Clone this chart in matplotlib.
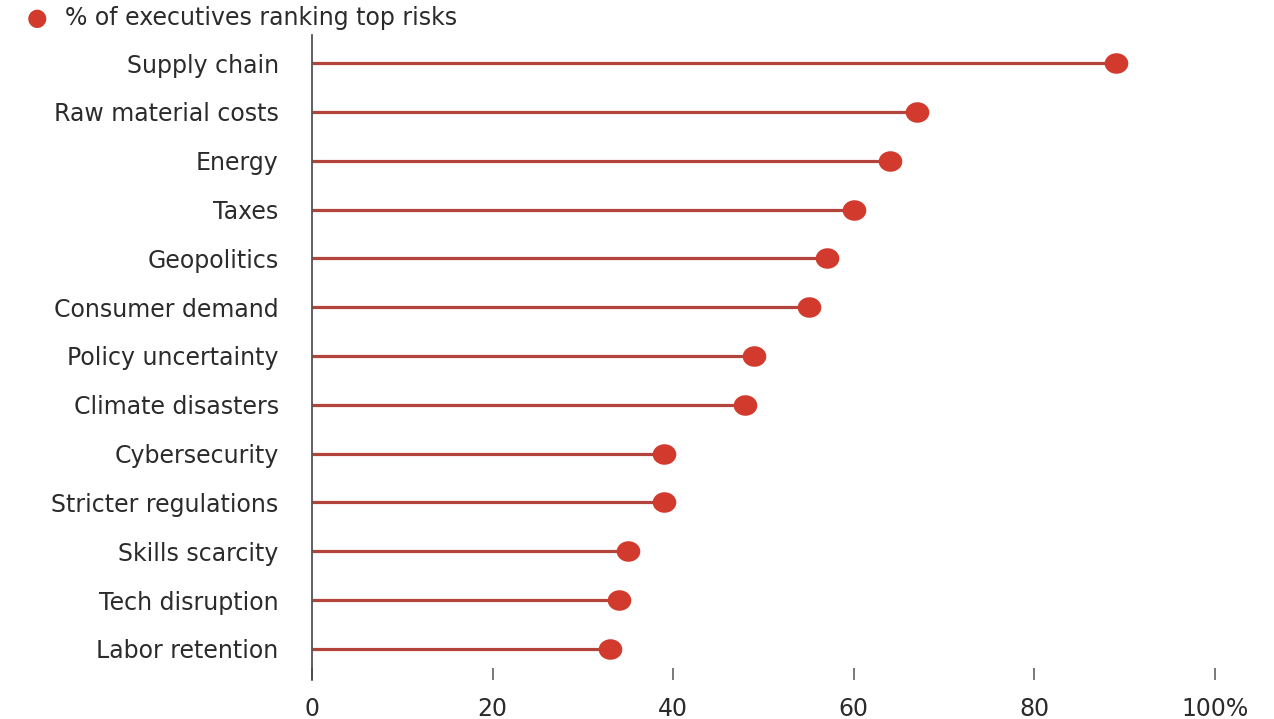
import matplotlib
matplotlib.use("Agg")
import matplotlib.pyplot as plt
import numpy as np
from matplotlib.path import Path

categories = ["Supply chain", "Raw material costs", "Energy", "Taxes", "Geopolitics",
              "Consumer demand", "Policy uncertainty", "Climate disasters", "Cybersecurity",
              "Stricter regulations", "Skills scarcity", "Tech disruption", "Labor retention"]
values = [89, 67, 64, 60, 57, 55, 49, 48, 39, 39, 35, 34, 33]
xticks = [0, 20, 40, 60, 80, 100]
xticklabels = ["0", "20", "40", "60", "80", "100%"]
legend_label = "% of executives ranking top risks"

plt.rcParams['font.family'] = ['DejaVu Sans']

W, H = 1274, 719
fig = plt.figure(figsize=(W / 100, H / 100), dpi=100)
ax = fig.add_axes([312 / W, 1 - 680 / H, (1215 - 312) / W, (680 - 35) / H])

line_color = "#b3443b"
dot_color = "#d23a2e"
text_color = "#2b2b2b"
fs = 17

# elliptical marker (slightly wider than tall, as in reference)
t = np.linspace(0, 2 * np.pi, 60)
ell = Path(np.column_stack([1.15 * np.cos(t), np.sin(t)]), closed=True)

y = np.arange(len(categories))
ax.hlines(y, 0, values, color=line_color, linewidth=2.3, zorder=2)
ax.plot(values, y, linestyle="none", marker=ell, markersize=17,
        color=dot_color, markeredgewidth=0, zorder=3)

step = 48.83
ax.set_ylim(12 + (680 - 649) / step, -(63 - 35) / step)
ax.set_xlim(0, 100)

for s in ["top", "right", "bottom"]:
    ax.spines[s].set_visible(False)
ax.spines["left"].set_color("#444444")
ax.spines["left"].set_linewidth(1.2)

ax.set_yticks(y)
ax.set_yticklabels(categories, fontsize=fs, color=text_color)
ax.tick_params(axis="y", length=0, pad=24)

ax.set_xticks(xticks)
ax.set_xticklabels(xticklabels, fontsize=fs, color=text_color)
ax.tick_params(axis="x", direction="in", length=9, width=1.1, color="#555555", pad=12)

# legend
fig.text(37 / W, 1 - 18 / H, "●", fontsize=17, color=dot_color, ha="center", va="center")
fig.text(65 / W, 1 - 18 / H, legend_label, fontsize=fs, color=text_color, ha="left", va="center")

fig.savefig("out.png", dpi=100, facecolor="white")
